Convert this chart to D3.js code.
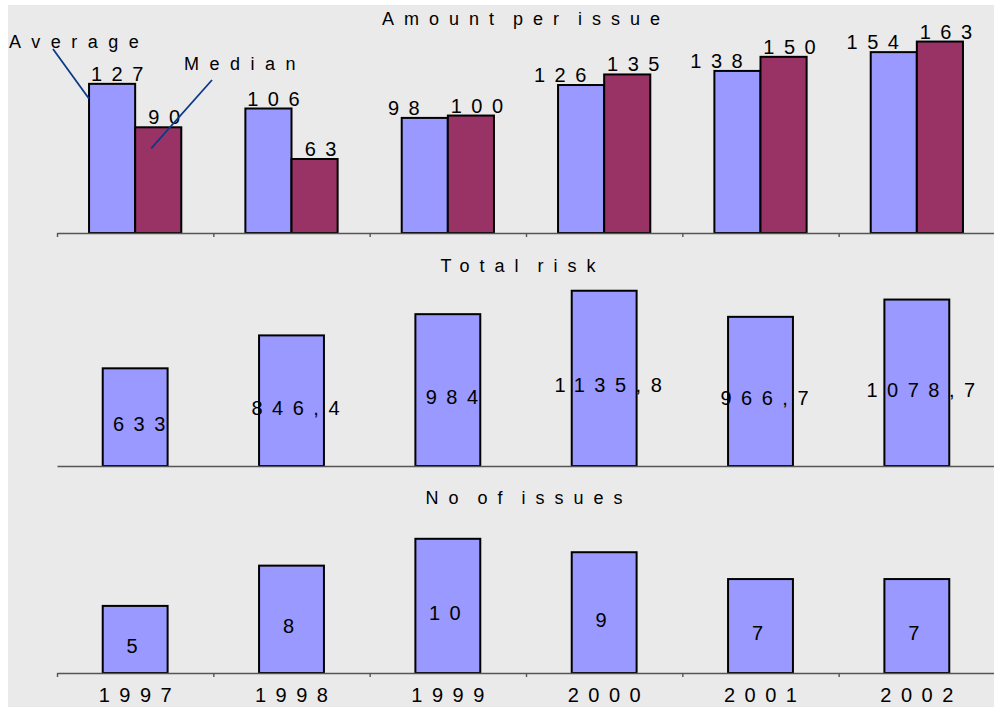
<!DOCTYPE html>
<html>
<head>
<meta charset="utf-8">
<script src="https://cdn.jsdelivr.net/npm/d3@7/dist/d3.min.js"></script>
<style>
  html, body { margin: 0; padding: 0; background: #ffffff; }
  svg { display: block; }
  text { font-family: Arial, "Liberation Sans", sans-serif; fill: #000; }
</style>
</head>
<body>
<svg id="chart" width="994" height="708"></svg>
<script>
// Issue statistics by year
const years = ["1997", "1998", "1999", "2000", "2001", "2002"];
const seriesNames = ["Average", "Median"];
const avgAmount = [127, 106, 98, 126, 138, 154];
const medianAmount = [90, 63, 100, 135, 150, 163];
const totalRisk = [633, 846.4, 984, 1135.8, 966.7, 1078.7];
const issueCount = [5, 8, 10, 9, 7, 7];
const panelTitles = ["Amount per issue", "Total risk", "No of issues"];

const W = 994, H = 708;
// text styles: wide character spacing throughout
const NUM = { fs: 20, ls: 9.5, ws: 0 };      // data labels and years
const TITLE = { fs: 18, ls: 10, ws: -6 };    // panel titles
const SERIES = { fs: 18, ls: 10.5, ws: 0 };  // series names
const COL_AVG = "#9999ff", COL_MED = "#993366";

const svg = d3.select("#chart");
svg.append("rect").attr("x", 8).attr("y", 5).attr("width", W - 8).attr("height", H - 6).attr("fill", "#eaeaea");

const x0 = 57, x1 = 995;
const xEdges = d3.scalePoint().domain(d3.range(years.length + 1)).range([x0, x1]);
const xBand = d3.scaleBand().domain(years).range([x0, x1]);
const xSingle = d3.scaleBand().domain(years).range([x0, x1]).paddingInner(0.585).paddingOuter(0.2925);
const xPair = d3.scaleBand().domain(years).range([x0, x1]).paddingInner(0.41).paddingOuter(0.205);
const xSub = d3.scaleBand().domain(seriesNames).range([0, xPair.bandwidth()]);

const yAmount = d3.scaleLinear().domain([0, 180]).range([233, 21.6]);
const yRisk = d3.scaleLinear().domain([0, 1200]).range([466, 466 - 1200 * 0.1543]);
const yIssues = d3.scaleLinear().domain([0, 12]).range([673, 673 - 12 * 13.42]);

const fmtComma = d3.formatLocale({ decimal: ",", thousands: " ", grouping: [3], currency: ["", ""] }).format(".1~f");

// spaced text helper; shifts by half the trailing spacing so centred text stays centred
function spaced(g, x, y, str, st, anchor) {
  const a = anchor || "middle";
  return g.append("text")
    .attr("x", a === "middle" ? x + st.ls / 2 : x)
    .attr("y", y)
    .attr("text-anchor", a)
    .style("font-size", st.fs + "px")
    .style("letter-spacing", st.ls + "px")
    .style("word-spacing", st.ws + "px")
    .text(str);
}

function baseline(y, withTicks) {
  const g = svg.append("g")
    .attr("transform", `translate(0,${y})`)
    .call(d3.axisBottom(xEdges).tickSize(withTicks ? 4 : 0).tickSizeOuter(0).tickFormat(""));
  g.select(".domain").attr("stroke", "#555").attr("stroke-width", 1.4);
  g.selectAll(".tick line").attr("stroke", "#555").attr("stroke-width", 1.4);
  return g;
}

// ---- Panel 1: amount per issue (average vs median)
const amountRows = years.map((yr, i) => ({ year: yr, Average: avgAmount[i], Median: medianAmount[i] }));
const p1 = svg.append("g");
spaced(p1, 521, 25, panelTitles[0], TITLE);
const groups = p1.selectAll("g.grp").data(amountRows).join("g")
  .attr("class", "grp")
  .attr("transform", d => `translate(${xPair(d.year)},0)`);
groups.selectAll("rect").data(d => seriesNames.map(k => ({ key: k, value: d[k] })))
  .join("rect")
  .attr("x", d => xSub(d.key))
  .attr("y", d => yAmount(d.value))
  .attr("width", xSub.bandwidth())
  .attr("height", d => yAmount(0) - yAmount(d.value))
  .attr("fill", d => d.key === "Average" ? COL_AVG : COL_MED)
  .attr("stroke", "#000").attr("stroke-width", 2);
groups.each(function (d) {
  const g = d3.select(this);
  seriesNames.forEach(k => {
    const cx = xSub(k) + xSub.bandwidth() / 2;
    let shift;
    if (k === "Median") shift = 6;
    else shift = d.Average < d.Median ? -21 : 5;   // keep the label clear of the taller neighbour
    spaced(g, cx + shift, yAmount(d[k]) - 3, String(d[k]), NUM);
  });
});
baseline(233, true);

// series names with leader lines
const first = amountRows[0];
const avgX = xPair(first.year) + xSub("Average");
const medX = xPair(first.year) + xSub("Median") + xSub.bandwidth() / 2;
spaced(p1, 9, 48, "Average", SERIES, "start");
spaced(p1, 184, 70, "Median", SERIES, "start");
p1.append("line").attr("x1", 53).attr("y1", 49).attr("x2", avgX).attr("y2", yAmount(first.Average) + 15)
  .attr("stroke", "#0b3a8a").attr("stroke-width", 1.8);
p1.append("line").attr("x1", 212).attr("y1", 80).attr("x2", medX - 7).attr("y2", yAmount(first.Median) + 21)
  .attr("stroke", "#0b3a8a").attr("stroke-width", 1.8);

// ---- Panel 2: total risk
const p2 = svg.append("g");
spaced(p2, 518, 272, panelTitles[1], TITLE);
const riskRows = years.map((yr, i) => ({ year: yr, value: totalRisk[i] }));
p2.selectAll("rect").data(riskRows).join("rect")
  .attr("x", d => xSingle(d.year))
  .attr("y", d => yRisk(d.value))
  .attr("width", xSingle.bandwidth())
  .attr("height", d => yRisk(0) - yRisk(d.value))
  .attr("fill", COL_AVG).attr("stroke", "#000").attr("stroke-width", 2);
riskRows.forEach(d => {
  const cx = xSingle(d.year) + xSingle.bandwidth() / 2;
  const mid = (yRisk(d.value) + yRisk(0)) / 2;
  spaced(p2, cx + 4, mid + 14, fmtComma(d.value), NUM);
});
baseline(466, false);

// ---- Panel 3: number of issues
const p3 = svg.append("g");
spaced(p3, 524, 504, panelTitles[2], TITLE);
const issueRows = years.map((yr, i) => ({ year: yr, value: issueCount[i] }));
p3.selectAll("rect").data(issueRows).join("rect")
  .attr("x", d => xSingle(d.year))
  .attr("y", d => yIssues(d.value))
  .attr("width", xSingle.bandwidth())
  .attr("height", d => yIssues(0) - yIssues(d.value))
  .attr("fill", COL_AVG).attr("stroke", "#000").attr("stroke-width", 2);
issueRows.forEach(d => {
  const cx = xSingle(d.year) + xSingle.bandwidth() / 2;
  const mid = (yIssues(d.value) + yIssues(0)) / 2;
  spaced(p3, cx - 3, mid + 14, String(d.value), NUM);
});
baseline(673, true);

// year labels under the bottom axis
years.forEach(yr => spaced(svg, xBand(yr) + xBand.bandwidth() / 2, 702, yr, NUM));
</script>
</body>
</html>
